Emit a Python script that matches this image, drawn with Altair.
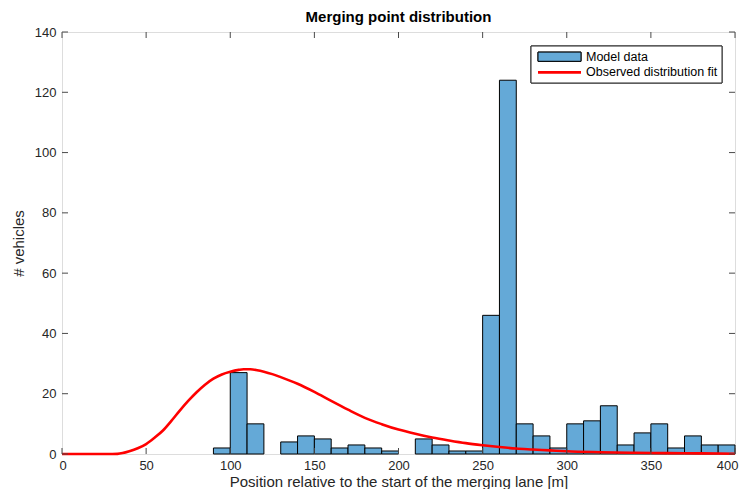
import altair as alt
import pandas as pd

# ---------------- data ----------------
bin_starts = [90, 100, 110, 120, 130, 140, 150, 160, 170, 180, 190, 200, 210, 220, 230, 240,
              250, 260, 270, 280, 290, 300, 310, 320, 330, 340, 350, 360, 370, 380, 390]
counts = [2, 27, 10, 0, 4, 6, 5, 2, 3, 2, 1, 0, 5, 3, 1, 1,
          46, 124, 10, 6, 2, 10, 11, 16, 3, 7, 10, 2, 6, 3, 3]
bin_width = 10

fit_x = [0, 10, 20, 30, 33, 36, 40, 45, 50, 55, 60, 65, 70, 75, 80, 85, 90, 95, 100, 105, 108,
         112, 116, 120, 125, 130, 140, 150, 160, 170, 180, 190, 200, 210, 220, 230, 240, 250,
         260, 270, 280, 290, 300, 320, 340, 360, 380, 400]
fit_y = [0, 0, 0, 0, 0.05, 0.3, 0.9, 1.9, 3.3, 5.4, 7.8, 11.0, 14.4, 17.6, 20.5, 23.0, 25.0, 26.4,
         27.3, 27.9, 28.1, 28.1, 27.8, 27.3, 26.5, 25.5, 23.3, 20.6, 17.6, 14.7, 12.0, 9.9, 8.1,
         6.7, 5.5, 4.5, 3.6, 2.9, 2.3, 1.8, 1.5, 1.2, 0.9, 0.6, 0.4, 0.3, 0.2, 0.1]

x_ticks = [0, 50, 100, 150, 200, 250, 300, 350, 400]
y_ticks = [0, 20, 40, 60, 80, 100, 120, 140]
legend_labels = ["Model data", "Observed distribution fit"]

title_text = "Merging point distribution"
x_title = "Position relative to the start of the merging lane [m]"
y_title = "# vehicles"

# ---------------- style ----------------
W, H = 673, 422
FONT = "Liberation Sans"
AX = "#262626"
FRAME = "#4a4a4a"
BLUE = "#64a9d7"
RED = "#ff0000"
TICK = 6

xs = alt.Scale(domain=[0, 400], nice=False, zero=False)
ys = alt.Scale(domain=[0, 140], nice=False)

bars_df = pd.DataFrame({
    "start": bin_starts,
    "end": [b + bin_width for b in bin_starts],
    "count": counts,
})
fit_df = pd.DataFrame({"x": fit_x, "y": fit_y})
xt_df = pd.DataFrame({"t": x_ticks})
yt_df = pd.DataFrame({"t": y_ticks})

x_axis = alt.Axis(values=x_ticks, ticks=False, tickSize=0, domain=False, grid=False,
                  labelFontSize=13, labelFont=FONT, labelColor=AX, labelPadding=5,
                  labelFlush=True, labelFlushOffset=3,
                  title=x_title, titleFont=FONT, titleFontSize=15,
                  titleFontWeight="normal", titleColor=AX, titlePadding=2)
y_axis = alt.Axis(values=y_ticks, ticks=False, tickSize=0, domain=False, grid=False,
                  labelFontSize=13, labelFont=FONT, labelColor=AX, labelPadding=6,
                  labelFlush=False, title=y_title, titleFont=FONT, titleFontSize=15,
                  titleFontWeight="normal", titleColor=AX, titlePadding=8)

bars = alt.Chart(bars_df).transform_filter("datum.count > 0").mark_rect(
    fill=BLUE, stroke="#000000", strokeWidth=1
).encode(
    x=alt.X("start:Q", scale=xs, axis=x_axis),
    x2="end:Q",
    y=alt.Y("count:Q", scale=ys, axis=y_axis),
    y2=alt.datum(0),
)

line = alt.Chart(fit_df).mark_line(color=RED, strokeWidth=2.6, interpolate="monotone").encode(
    x=alt.X("x:Q", scale=xs),
    y=alt.Y("y:Q", scale=ys),
)

# inward ticks on all four sides (MATLAB box style)
xt_bottom = alt.Chart(xt_df).mark_rule(color=FRAME, strokeWidth=1).encode(
    x=alt.X("t:Q", scale=xs), y=alt.value(H), y2=alt.value(H - TICK))
xt_top = alt.Chart(xt_df).mark_rule(color=FRAME, strokeWidth=1).encode(
    x=alt.X("t:Q", scale=xs), y=alt.value(0), y2=alt.value(TICK))
yt_left = alt.Chart(yt_df).mark_rule(color=FRAME, strokeWidth=1).encode(
    y=alt.Y("t:Q", scale=ys), x=alt.value(0), x2=alt.value(TICK))
yt_right = alt.Chart(yt_df).mark_rule(color=FRAME, strokeWidth=1).encode(
    y=alt.Y("t:Q", scale=ys), x=alt.value(W), x2=alt.value(W - TICK))

# legend box (drawn as decoration in pixel space)
leg_df = pd.DataFrame({"label": legend_labels})
LX0, LX1, LY0, LY1 = 469, 660, 14, 51
SW0, SW1 = 476, 519
R1, R2 = 24.7, 40.3

leg_frame = alt.Chart(leg_df).mark_rect(fill="white", stroke=AX, strokeWidth=1).encode(
    x=alt.value(LX0), x2=alt.value(LX1), y=alt.value(LY0), y2=alt.value(LY1))
leg_swatch = alt.Chart(leg_df).mark_rect(fill=BLUE, stroke="#000000", strokeWidth=1).encode(
    x=alt.value(SW0), x2=alt.value(SW1), y=alt.value(R1 - 4.6), y2=alt.value(R1 + 4.6))
leg_line = alt.Chart(leg_df).mark_rule(color=RED, strokeWidth=2.6).encode(
    x=alt.value(SW0), x2=alt.value(SW1), y=alt.value(R2))
leg_text1 = alt.Chart(pd.DataFrame({"label": [legend_labels[0]]})).mark_text(
    align="left", baseline="middle", font=FONT, fontSize=12.5, color="#000000"
).encode(x=alt.value(524), y=alt.value(R1), text="label:N")
leg_text2 = alt.Chart(pd.DataFrame({"label": [legend_labels[1]]})).mark_text(
    align="left", baseline="middle", font=FONT, fontSize=12.5, color="#000000"
).encode(x=alt.value(524), y=alt.value(R2), text="label:N")

chart = alt.layer(
    bars, line, xt_bottom, xt_top, yt_left, yt_right,
    leg_frame, leg_swatch, leg_line, leg_text1, leg_text2
).properties(
    width=W, height=H,
    title=alt.TitleParams(title_text, font=FONT, fontSize=15, fontWeight="bold",
                          color="#000000", anchor="middle", offset=1),
    autosize=alt.AutoSizeParams(type="none"),
    padding={"left": 54, "top": 24, "right": 4, "bottom": 35},
).configure_view(
    stroke=FRAME, strokeWidth=1
).configure(background="white")

chart.save("out.html", embed_options={"renderer": "svg", "actions": False})
